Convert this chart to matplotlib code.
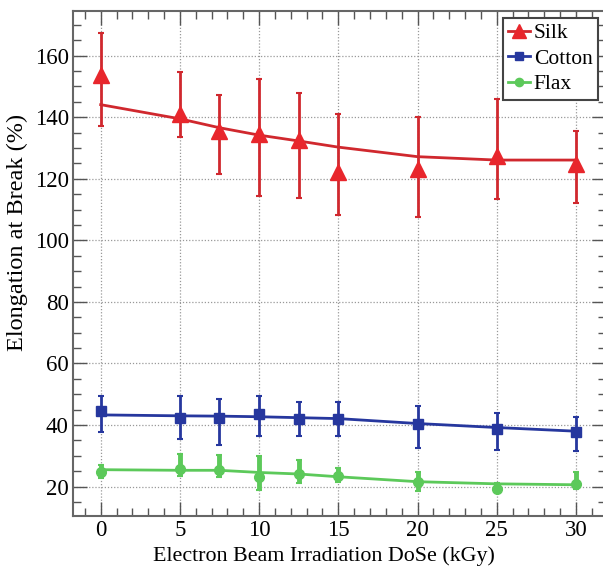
import numpy as np
import matplotlib.pyplot as plt
from matplotlib.ticker import MultipleLocator

plt.rcParams['font.family'] = ['Liberation Serif', 'DejaVu Serif']

dose = [0, 5, 7.5, 10, 12.5, 15, 20, 25, 30]

# silk: measured mean, error bar low/high, fitted trend
silk = [153.8, 141.1, 135.7, 134.6, 132.7, 122.1, 123.2, 127.5, 124.8]
silk_lo = [137.2, 133.7, 121.6, 114.3, 113.7, 108.3, 107.5, 113.4, 112.1]
silk_hi = [167.5, 154.7, 147.3, 152.5, 147.8, 141.1, 140.2, 145.8, 135.5]
silk_fit = [144.1, 139.5, 136.6, 134.2, 132.3, 130.3, 127.2, 126.1, 126.1]

cotton = [44.6, 42.4, 42.4, 43.5, 42.0, 41.9, 40.3, 38.8, 37.6]
cotton_lo = [37.8, 35.4, 33.4, 36.3, 36.3, 36.6, 32.6, 32.0, 31.6]
cotton_hi = [49.6, 49.6, 48.5, 49.3, 47.6, 47.4, 46.3, 44.0, 42.5]
cotton_fit = [43.3, 43.0, 42.9, 42.7, 42.4, 42.1, 40.5, 39.2, 38.0]

flax = [24.8, 25.8, 25.5, 23.0, 24.1, 23.3, 21.6, 19.2, 20.9]
flax_lo = [22.8, 23.6, 23.0, 18.9, 21.1, 21.4, 18.7, 18.1, 19.2]
flax_hi = [27.1, 30.7, 30.2, 29.8, 28.5, 26.0, 24.6, 21.3, 24.6]
flax_fit = [25.5, 25.3, 25.3, 24.6, 24.1, 23.2, 21.6, 20.9, 20.6]

series = [
    ("Silk", silk, silk_lo, silk_hi, silk_fit, "#e8262c", "#d0282e", "^", 11.5, 2.0),
    ("Cotton", cotton, cotton_lo, cotton_hi, cotton_fit, "#26379e", "#26379e", "s", 6.5, 2.0),
    ("Flax", flax, flax_lo, flax_hi, flax_fit, "#5cc95a", "#5cc95a", "o", 7, 3.5),
]

fig = plt.figure(figsize=(6.03, 5.70), dpi=100)
ax = fig.add_axes([0.121, 0.095, 0.884, 0.885])

for name, y, lo, hi, fit, mc, lc, mk, ms, ew in series:
    y = np.asarray(y)
    err = [y - np.asarray(lo), np.asarray(hi) - y]
    ax.errorbar(dose, y, yerr=err, fmt="none", ecolor=lc, elinewidth=ew,
                capsize=2, capthick=1.5, zorder=3)
    ax.plot(dose, fit, color=lc, lw=2, zorder=3)
    ax.plot(dose, y, linestyle="none", marker=mk, ms=ms, color=mc, zorder=4)
    # legend handle
    ax.plot([], [], color=lc, lw=2, marker=mk, ms=ms * 0.85, mfc=mc, mec=mc, label=name)

ax.set_xlim(-1.75, 31.9)
ax.set_ylim(10.5, 174.4)
ax.xaxis.set_major_locator(MultipleLocator(5))
ax.xaxis.set_minor_locator(MultipleLocator(1))
ax.yaxis.set_major_locator(MultipleLocator(20))
ax.yaxis.set_minor_locator(MultipleLocator(5))
ax.tick_params(which="both", direction="in", top=True, right=True,
               color="#555555", labelsize=16.5)
ax.tick_params(which="major", length=10, width=1, pad=3)
ax.tick_params(which="minor", length=6, width=1)
ax.grid(True, which="major", linestyle=(0, (1, 1.5)), color="#999999", lw=0.9)
for s in ax.spines.values():
    s.set_color("#666666")
    s.set_linewidth(1.5)

ax.set_xlabel("Electron Beam Irradiation DoSe (kGy)", fontsize=15.8)
ax.set_ylabel("Elongation at Break (%)", fontsize=17.5)
ax.xaxis.set_label_coords(0.471, -0.06)
ax.yaxis.set_label_coords(-0.084, 0.561)

leg = ax.legend(loc="upper right", bbox_to_anchor=(0.985, 0.987), fontsize=15.5,
                fancybox=False, framealpha=1, edgecolor="#444444",
                handlelength=1.0, handletextpad=0.2, borderpad=0.25,
                labelspacing=0.25, borderaxespad=0)
leg.get_frame().set_linewidth(1.5)

fig.savefig("out.png", dpi=100)
